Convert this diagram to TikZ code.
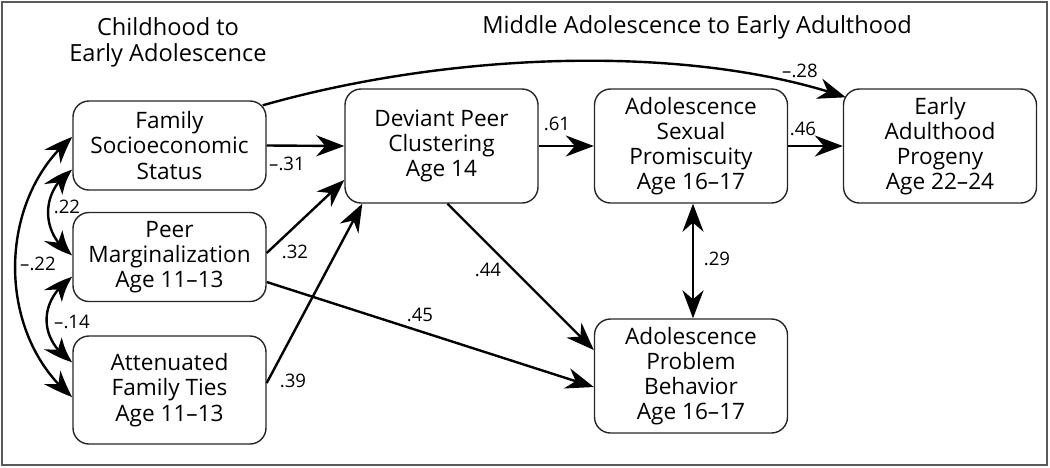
\documentclass[tikz,border=0pt]{standalone}
\usepackage{fontspec}
\setmainfont{Open Sans}
\usetikzlibrary{arrows.meta, bending}

\tikzset{
    box/.style={draw=black!85, line width=0.7pt, rounded corners=8pt, align=center,
        inner sep=0pt, minimum width=96.5pt, font=\fontsize{11.3}{12.6}\selectfont},
    link/.style={line width=1.2pt, -{Stealth[length=14pt, width=10.5pt, inset=4.5pt]}},
    corr/.style={line width=1.2pt, {Stealth[length=14pt, width=10.5pt, inset=4.5pt, bend]}-{Stealth[length=14pt, width=10.5pt, inset=4.5pt, bend]}},
    coef/.style={inner sep=1pt, font=\fontsize{9.3}{10}\selectfont},
    period/.style={align=center, font=\fontsize{11.8}{13}\selectfont}
}

\begin{document}
\begin{tikzpicture}[x=0.5pt, y=-0.5pt]

    % Frame
    \useasboundingbox (0,0) rectangle (1050,467);
    \draw[black!65, line width=1pt] (2,2) rectangle (1047,465);

    % Periods
    \node[period] (early) at (168,42) {Childhood to\\Early Adolescence};
    \node[period] (middle) at (697,27) {Middle Adolescence to Early Adulthood};

    % Childhood measures
    \node[box, minimum height=44.5pt] (ses) at (169.5,145.5) {Family\\Socioeconomic\\Status};
    \node[box, minimum height=44.5pt] (marg) at (169.5,257) {Peer\\Marginalization\\Age 11--13};
    \node[box, minimum height=54pt] (ties) at (169.5,390) {Attenuated\\Family Ties\\Age 11--13};

    % Adolescence and adulthood
    \node[box, minimum height=57pt] (dev) at (441.5,146) {Deviant Peer\\Clustering\\Age 14};
    \node[box, minimum height=57pt] (prom) at (691,146) {Adolescence\\Sexual\\Promiscuity\\Age 16--17};
    \node[box, minimum height=57pt] (prog) at (940,146) {Early\\Adulthood\\Progeny\\Age 22--24};
    \node[box, minimum height=57pt] (prob) at (691,376) {Adolescence\\Problem\\Behavior\\Age 16--17};

    % Paths into deviant peer clustering
    \draw[link] (ses.east) -- (dev.west);
    \draw[link] ([yshift=2pt]marg.east) -- ([yshift=-17pt]dev.west);
    \draw[link] ([yshift=3.5pt]ties.east) -- ([xshift=9pt]dev.south west);

    % Paths out of deviant peer clustering
    \draw[link] (dev.east) -- (prom.west);
    \draw[link] ([xshift=3pt]dev.south) -- ([yshift=13pt]prob.west);
    \draw[link] ([yshift=-12.5pt]marg.east) -- ([yshift=-5.5pt]prob.west);

    % Later outcomes
    \draw[link] (prom.east) -- (prog.west);
    \draw[link] ([xshift=-2pt, yshift=-2.5pt]ses.north east) .. controls (450,52) and (688,43) .. ([xshift=1.5pt, yshift=-4.5pt]prog.north west);
    \draw[corr] ([xshift=1pt]prom.south) -- ([xshift=1pt]prob.north);

    % Correlations among childhood measures
    \draw[corr] ([yshift=-12.25pt]ses.west) .. controls (40,190) and (40,235) .. ([yshift=1pt]marg.west);
    \draw[corr] ([yshift=-10pt]marg.west) .. controls (38,300) and (38,340) .. ([yshift=14pt]ties.west);
    \draw[corr] ([yshift=4.25pt]ses.west) .. controls (-4,200) and (-4,335) .. ([yshift=-3.5pt]ties.west);

    % Coefficients
    \node[coef] (k31) at (287,164) {–.31};
    \node[coef] (k32) at (295,252) {.32};
    \node[coef] (k39) at (293,381) {.39};
    \node[coef] (k45) at (420,315) {.45};
    \node[coef] (k44) at (488,270) {.44};
    \node[coef] (k61) at (557,124) {.61};
    \node[coef] (k46) at (803,129) {.46};
    \node[coef] (k29) at (717,259) {.29};
    \node[coef] (k28) at (800,71) {–.28};
    \node[coef] (k22a) at (67,207) {.22};
    \node[coef] (k14) at (72,322) {–.14};
    \node[coef] (k22b) at (38,264) {–.22};

\end{tikzpicture}
\end{document}
